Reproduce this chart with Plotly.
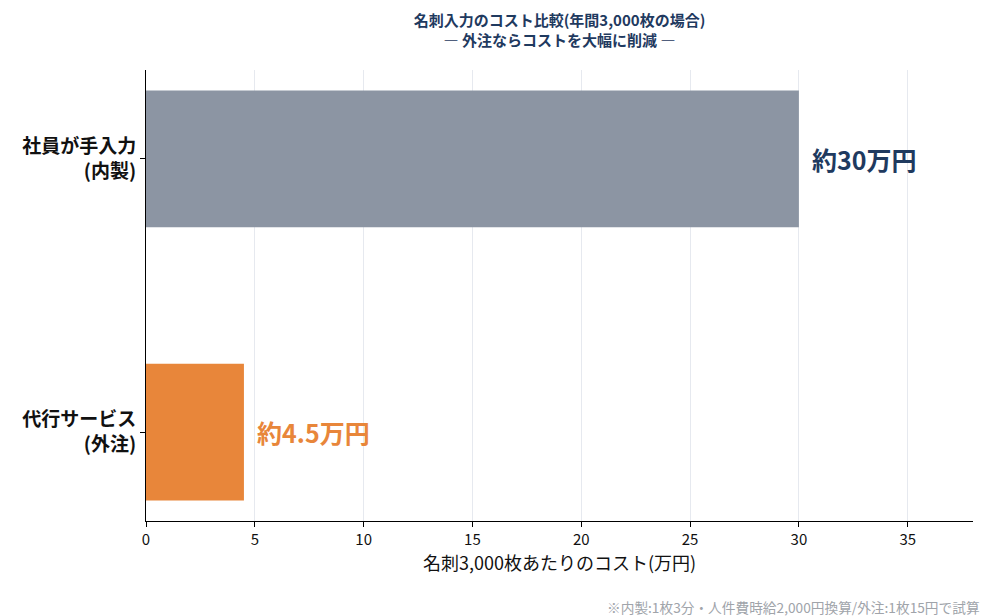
import plotly.graph_objects as go

# Data
categories = ["代行サービス<br>(外注)", "社員が手入力<br>(内製)"]
costs = [4.5, 30]
labels = ["約4.5万円", "約30万円"]
bar_colors = ["#E8863A", "#8C95A3"]
label_colors = ["#E8863A", "#1F3A5F"]

FONT = "Noto Sans CJK JP"

fig = go.Figure()
fig.add_trace(go.Bar(
    x=costs,
    y=categories,
    orientation="h",
    marker=dict(color=bar_colors, line=dict(width=0)),
    width=0.5,
    hoverinfo="x+y",
    showlegend=False,
))

# value labels next to bars
for cat, val, txt, col in zip(categories, costs, labels, label_colors):
    fig.add_annotation(
        x=val, y=cat, text="<b>" + txt + "</b>",
        xanchor="left", yanchor="middle", xshift=11, showarrow=False,
        font=dict(family=FONT, size=25, color=col),
    )

# footnote
fig.add_annotation(
    xref="paper", yref="paper", x=1.0, y=-0.165, xshift=9,
    xanchor="right", yanchor="top", showarrow=False,
    text="※内製:1枚3分・人件費時給2,000円換算/外注:1枚15円で試算",
    font=dict(family=FONT, size=13.7, color="#A0A4AA"),
)

fig.update_layout(
    width=982, height=608,
    paper_bgcolor="white", plot_bgcolor="white",
    margin=dict(l=138, r=17, t=62, b=95),
    font=dict(family=FONT, color="#111111"),
    title=dict(
        text="<b>名刺入力のコスト比較(年間3,000枚の場合)<br>― 外注ならコストを大幅に削減 ―</b>",
        x=0.5, xref="paper", xanchor="center", y=0.97, yanchor="top",
        font=dict(family=FONT, size=15, color="#1F3A5F"),
    ),
    bargap=0.5,
)

fig.update_xaxes(
    range=[0, 38], tickvals=[0, 5, 10, 15, 20, 25, 30, 35],
    showgrid=True, gridcolor="#E6E9EF", gridwidth=1,
    showline=True, linecolor="black", linewidth=1,
    ticks="outside", ticklen=5, tickcolor="black",
    tickfont=dict(family=FONT, size=15, color="#111111"),
    title=dict(text="名刺3,000枚あたりのコスト(万円)", font=dict(family=FONT, size=18, color="#111111"), standoff=8),
    zeroline=False,
)
fig.update_yaxes(
    range=[-0.325, 1.325],
    showgrid=False,
    showline=True, linecolor="black", linewidth=1,
    ticks="outside", ticklen=5, tickcolor="black",
    tickfont=dict(family=FONT, size=19, color="#111111"),
    tickprefix="<b>", ticksuffix="</b>",
)

fig.write_html("out.html")
